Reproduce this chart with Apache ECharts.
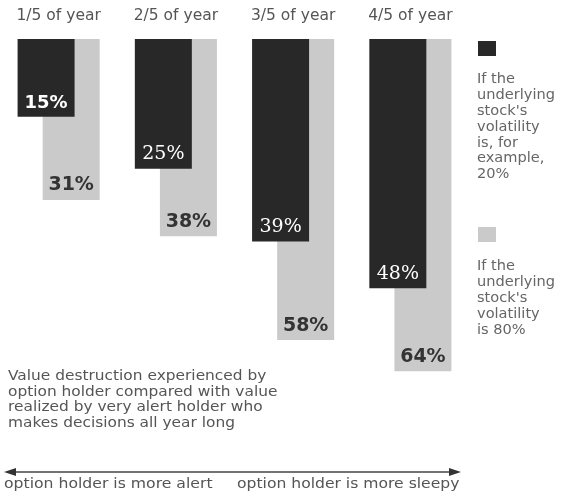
<!DOCTYPE html>
<html>
<head>
<meta charset="utf-8">
<script src="https://cdn.jsdelivr.net/npm/echarts@6/dist/echarts.min.js"></script>
<style>
html,body{margin:0;padding:0;background:#fff;}
#c{width:567px;height:499px;}
</style>
</head>
<body>
<div id="c"></div>
<script>
var categories = ['1/5 of year', '2/5 of year', '3/5 of year', '4/5 of year'];
var vol20 = [15, 25, 39, 48];
var vol80 = [31, 38, 58, 64];
var legend20 = 'If the\nunderlying\nstock\'s\nvolatility\nis, for\nexample,\n20%';
var legend80 = 'If the\nunderlying\nstock\'s\nvolatility\nis 80%';
var note = 'Value destruction experienced by\noption holder compared with value\nrealized by very alert holder who\nmakes decisions all year long';
var leftText = 'option holder is more alert';
var rightText = 'option holder is more sleepy';

var sans = '"DejaVu Sans", "Noto Sans", sans-serif';
var serif = '"DejaVu Serif", "Liberation Serif", serif';
var textColor = '#555';
var dark = '#282828';
var light = '#cacaca';

var darkData = vol20.map(function (v, i) {
  return {
    value: v,
    label: i === 0
      ? { fontFamily: sans, fontWeight: 'bold', fontSize: 18 }
      : { fontFamily: serif, fontWeight: 'normal', fontSize: 19 }
  };
});

function txt(x, y, text, size, color, lh, sx) {
  return {
    type: 'text', x: x, y: y, scaleX: sx,
    style: { text: text, font: size + 'px ' + sans, fill: color, lineHeight: lh, verticalAlign: 'top', align: 'left' }
  };
}

var chart = echarts.init(document.getElementById('c'), null, { renderer: 'canvas' });
chart.setOption({
  animation: false,
  backgroundColor: '#fff',
  grid: { left: -2, top: 39, width: 471, height: 366 },
  xAxis: {
    type: 'category',
    data: categories,
    position: 'top',
    axisLine: { show: false },
    axisTick: { show: false },
    axisLabel: { fontFamily: sans, fontSize: 15.5, color: textColor, margin: 15 }
  },
  yAxis: {
    type: 'value',
    inverse: true,
    min: 0,
    max: 70.5,
    show: false,
    splitLine: { show: false }
  },
  series: [
    {
      name: '20%',
      type: 'bar',
      data: darkData,
      barWidth: 57,
      barGap: '-56%',
      z: 3,
      itemStyle: { color: dark },
      label: {
        show: true,
        position: 'insideBottom',
        distance: 5,
        formatter: '{c}%',
        color: '#fff'
      }
    },
    {
      name: '80%',
      type: 'bar',
      data: vol80,
      barWidth: 57,
      z: 2,
      itemStyle: { color: light },
      label: {
        show: true,
        position: 'insideBottom',
        distance: 5,
        formatter: '{c}%',
        color: '#333',
        fontFamily: sans,
        fontWeight: 'bold',
        fontSize: 19
      }
    }
  ],
  graphic: [
    { type: 'rect', shape: { x: 478, y: 41, width: 18, height: 15 }, style: { fill: dark } },
    txt(477, 72, legend20, 13.5, '#666', 15.8, 1.08),
    { type: 'rect', shape: { x: 478, y: 227, width: 18, height: 15 }, style: { fill: light } },
    txt(477, 258, legend80, 13.5, '#666', 16, 1.08),
    txt(8, 369, note, 14, textColor, 15.5, 1.1),
    { type: 'line', shape: { x1: 12, y1: 472, x2: 452, y2: 472 }, style: { stroke: '#444', lineWidth: 1.5 } },
    { type: 'polygon', shape: { points: [[4, 472], [16, 468], [16, 476]] }, style: { fill: '#333' } },
    { type: 'polygon', shape: { points: [[461, 472], [449, 468], [449, 476]] }, style: { fill: '#333' } },
    txt(4, 476, leftText, 13.5, textColor, 16, 1.16),
    txt(237, 476, rightText, 13.5, textColor, 16, 1.155)
  ]
});
</script>
</body>
</html>
